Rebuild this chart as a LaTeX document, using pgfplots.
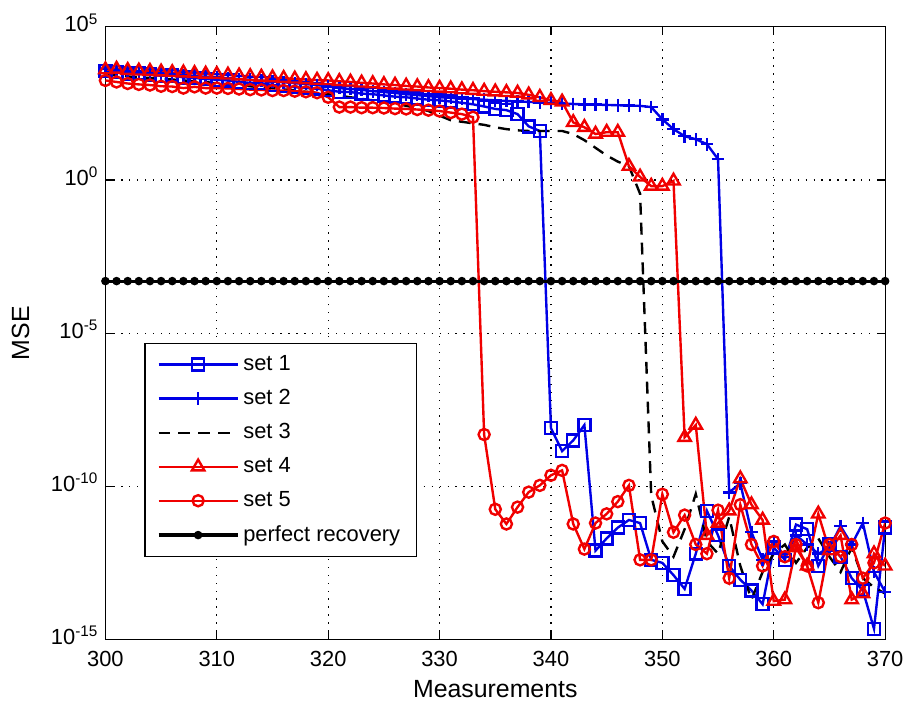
\documentclass[border=0pt]{standalone}
\usepackage{fontspec}
\setmainfont{Liberation Sans}
\usepackage{pgfplots}
\pgfplotsset{compat=1.18}
\usepackage{pgfplotstable}

\definecolor{mblue}{RGB}{0,0,230}
\definecolor{mred}{RGB}{240,0,0}

% MATLAB-like long legend samples
\pgfplotsset{legend image code/.code={%
  \draw[mark repeat=2,mark phase=2,#1] plot coordinates {(0cm,0cm) (0.7cm,0cm) (1.4cm,0cm)};}}

% columns: measurements, log10(MSE)
\pgfplotstableread[row sep=\\]{
m v\\
300 3.55\\ 301 3.52\\ 302 3.48\\ 303 3.50\\ 304 3.44\\ 305 3.40\\ 306 3.41\\ 307 3.35\\ 308 3.33\\ 309 3.30\\
310 3.27\\ 311 3.25\\ 312 3.20\\ 313 3.17\\ 314 3.16\\ 315 3.10\\ 316 3.07\\ 317 3.03\\ 318 3.00\\ 319 2.98\\
320 2.93\\ 321 2.88\\ 322 2.87\\ 323 2.82\\ 324 2.80\\ 325 2.76\\ 326 2.72\\ 327 2.70\\ 328 2.66\\ 329 2.62\\
330 2.60\\ 331 2.56\\ 332 2.52\\ 333 2.47\\ 334 2.40\\ 335 2.32\\ 336 2.28\\ 337 2.15\\ 338 1.75\\ 339 1.60\\
340 -8.10\\ 341 -8.85\\ 342 -8.50\\ 343 -8.00\\ 344 -12.10\\ 345 -11.70\\ 346 -11.35\\ 347 -11.10\\ 348 -11.20\\ 349 -12.40\\
350 -12.50\\ 351 -12.90\\ 352 -13.35\\ 353 -12.20\\ 354 -10.80\\ 355 -11.60\\ 356 -12.60\\ 357 -13.05\\ 358 -13.40\\ 359 -13.85\\
360 -12.00\\ 361 -12.40\\ 362 -11.25\\ 363 -11.40\\ 364 -12.60\\ 365 -11.90\\ 366 -12.30\\ 367 -13.00\\ 368 -13.40\\ 369 -14.65\\
370 -11.35\\
}\setone

\pgfplotstableread[row sep=\\]{
m v\\
300 3.62\\ 301 3.58\\ 302 3.55\\ 303 3.54\\ 304 3.50\\ 305 3.47\\ 306 3.45\\ 307 3.42\\ 308 3.40\\ 309 3.37\\
310 3.35\\ 311 3.32\\ 312 3.30\\ 313 3.27\\ 314 3.24\\ 315 3.22\\ 316 3.19\\ 317 3.16\\ 318 3.13\\ 319 3.10\\
320 3.05\\ 321 3.00\\ 322 2.97\\ 323 2.94\\ 324 2.90\\ 325 2.87\\ 326 2.84\\ 327 2.80\\ 328 2.77\\ 329 2.74\\
330 2.70\\ 331 2.68\\ 332 2.66\\ 333 2.64\\ 334 2.62\\ 335 2.60\\ 336 2.58\\ 337 2.56\\ 338 2.55\\ 339 2.53\\
340 2.52\\ 341 2.50\\ 342 2.48\\ 343 2.47\\ 344 2.46\\ 345 2.45\\ 346 2.44\\ 347 2.43\\ 348 2.42\\ 349 2.38\\
350 1.98\\ 351 1.66\\ 352 1.43\\ 353 1.33\\ 354 1.17\\ 355 0.68\\ 356 -10.20\\ 357 -9.90\\ 358 -11.50\\ 359 -12.40\\
360 -11.80\\ 361 -12.30\\ 362 -11.60\\ 363 -11.90\\ 364 -12.20\\ 365 -12.00\\ 366 -11.30\\ 367 -11.90\\ 368 -11.20\\ 369 -12.80\\
370 -13.45\\
}\settwo

\pgfplotstableread[row sep=\\]{
m v\\
300 3.40\\ 301 3.45\\ 302 3.38\\ 303 3.35\\ 304 3.33\\ 305 3.30\\ 306 3.28\\ 307 3.25\\ 308 3.22\\ 309 3.20\\
310 3.15\\ 311 3.12\\ 312 3.10\\ 313 3.06\\ 314 3.02\\ 315 3.00\\ 316 2.96\\ 317 2.92\\ 318 2.88\\ 319 2.85\\
320 2.80\\ 321 2.75\\ 322 2.70\\ 323 2.65\\ 324 2.60\\ 325 2.55\\ 326 2.50\\ 327 2.42\\ 328 2.35\\ 329 2.25\\
330 2.10\\ 331 1.95\\ 332 1.90\\ 333 1.85\\ 334 1.80\\ 335 1.72\\ 336 1.66\\ 337 1.62\\ 338 1.60\\ 339 1.60\\
340 1.60\\ 341 1.60\\ 342 1.50\\ 343 1.30\\ 344 1.05\\ 345 0.80\\ 346 0.60\\ 347 0.45\\ 348 -0.45\\ 349 -10.30\\
350 -11.80\\ 351 -12.30\\ 352 -11.40\\ 353 -10.25\\ 354 -11.80\\ 355 -12.20\\ 356 -11.00\\ 357 -12.60\\ 358 -13.70\\ 359 -12.80\\
360 -12.20\\ 361 -11.90\\ 362 -12.50\\ 363 -12.00\\ 364 -11.70\\ 365 -12.30\\ 366 -12.80\\ 367 -12.00\\ 368 -13.00\\ 369 -13.30\\
370 -13.50\\
}\setthree

\pgfplotstableread[row sep=\\]{
m v\\
300 3.60\\ 301 3.62\\ 302 3.58\\ 303 3.56\\ 304 3.55\\ 305 3.53\\ 306 3.51\\ 307 3.50\\ 308 3.48\\ 309 3.46\\
310 3.45\\ 311 3.43\\ 312 3.40\\ 313 3.38\\ 314 3.36\\ 315 3.34\\ 316 3.32\\ 317 3.30\\ 318 3.28\\ 319 3.26\\
320 3.25\\ 321 3.22\\ 322 3.20\\ 323 3.17\\ 324 3.15\\ 325 3.12\\ 326 3.10\\ 327 3.07\\ 328 3.05\\ 329 3.02\\
330 3.00\\ 331 2.98\\ 332 2.95\\ 333 2.93\\ 334 2.90\\ 335 2.88\\ 336 2.86\\ 337 2.84\\ 338 2.78\\ 339 2.70\\
340 2.60\\ 341 2.55\\ 342 1.88\\ 343 1.72\\ 344 1.50\\ 345 1.56\\ 346 1.56\\ 347 0.45\\ 348 0.10\\ 349 -0.20\\
350 -0.20\\ 351 -0.03\\ 352 -8.40\\ 353 -8.00\\ 354 -11.60\\ 355 -11.20\\ 356 -10.80\\ 357 -9.75\\ 358 -10.60\\ 359 -11.10\\
360 -13.75\\ 361 -13.70\\ 362 -12.00\\ 363 -12.60\\ 364 -10.90\\ 365 -12.10\\ 366 -11.60\\ 367 -13.70\\ 368 -13.50\\ 369 -12.20\\
370 -12.60\\
}\setfour

\pgfplotstableread[row sep=\\]{
m v\\
300 3.25\\ 301 3.20\\ 302 3.15\\ 303 3.12\\ 304 3.10\\ 305 3.06\\ 306 3.05\\ 307 3.00\\ 308 3.04\\ 309 3.00\\
310 3.00\\ 311 2.99\\ 312 2.97\\ 313 2.95\\ 314 2.94\\ 315 2.92\\ 316 2.92\\ 317 2.90\\ 318 2.88\\ 319 2.85\\
320 2.70\\ 321 2.38\\ 322 2.38\\ 323 2.36\\ 324 2.36\\ 325 2.35\\ 326 2.33\\ 327 2.32\\ 328 2.30\\ 329 2.28\\
330 2.25\\ 331 2.20\\ 332 2.15\\ 333 2.05\\ 334 -8.31\\ 335 -10.75\\ 336 -11.23\\ 337 -10.68\\ 338 -10.19\\ 339 -9.97\\
340 -9.64\\ 341 -9.48\\ 342 -11.23\\ 343 -12.05\\ 344 -11.20\\ 345 -10.90\\ 346 -10.50\\ 347 -9.97\\ 348 -12.40\\ 349 -12.40\\
350 -10.26\\ 351 -11.50\\ 352 -10.94\\ 353 -11.90\\ 354 -12.20\\ 355 -10.78\\ 356 -13.00\\ 357 -10.60\\ 358 -11.90\\ 359 -12.60\\
360 -11.80\\ 361 -12.30\\ 362 -11.90\\ 363 -12.60\\ 364 -13.80\\ 365 -11.90\\ 366 -12.30\\ 367 -11.90\\ 368 -13.00\\ 369 -12.50\\
370 -11.20\\
}\setfive

\begin{document}
\begin{tikzpicture}
  \begin{axis}[
      width=392pt, height=308pt, scale only axis,
      xmin=300, xmax=370,
      ymode=log, ymin=1e-15, ymax=1e5,
      xtick={300,310,...,370},
      ytick={1e-15,1e-10,1e-5,1,1e5},
      yticklabels={10\textsuperscript{-15},10\textsuperscript{-10},10\textsuperscript{-5},10\textsuperscript{0},10\textsuperscript{5}},
      yminorticks=false,
      grid=major,
      major grid style={black, line width=0.6pt, dash pattern=on 0.6pt off 3.4pt},
      axis line style={line width=0.6pt},
      tick style={black, line width=0.6pt},
      major tick length=4pt,
      /pgf/number format/assume math mode=true,
      tick label style={font=\fontsize{11}{13}\selectfont},
      xticklabel style={yshift=-2.5pt},
      yticklabel style={yshift=2pt},
      label style={font=\fontsize{12.5}{15}\selectfont},
      xlabel={Measurements},
      ylabel={MSE},
      ylabel style={yshift=4pt},
      legend cell align=left,
      legend style={at={(0.05,0.484)}, anchor=north west, draw=black,
        line width=0.6pt, fill=white, font=\fontsize{11}{13}\selectfont,
        row sep=4pt, inner xsep=6pt, inner ysep=4pt},
    ]
    \addplot[mblue, line width=1.2pt, mark=square, mark size=3pt]
      table[x=m, y expr=10^(\thisrow{v})] {\setone};
    \addlegendentry{set 1}
    \addplot[mblue, line width=1.2pt, mark=+, mark size=3.2pt]
      table[x=m, y expr=10^(\thisrow{v})] {\settwo};
    \addlegendentry{set 2}
    \addplot[black, line width=1.2pt, dash pattern=on 6pt off 4pt]
      table[x=m, y expr=10^(\thisrow{v})] {\setthree};
    \addlegendentry{set 3}
    \addplot[mred, line width=1.2pt, mark=triangle, mark size=3.6pt]
      table[x=m, y expr=10^(\thisrow{v})] {\setfour};
    \addlegendentry{set 4}
    \addplot[mred, line width=1.2pt, mark=o, mark size=2.8pt]
      table[x=m, y expr=10^(\thisrow{v})] {\setfive};
    \addlegendentry{set 5}
    \addplot[black, line width=1.6pt, mark=*, mark size=1.3pt] coordinates {
      (300,5e-4) (301,5e-4) (302,5e-4) (303,5e-4) (304,5e-4) (305,5e-4) (306,5e-4) (307,5e-4) (308,5e-4) (309,5e-4)
      (310,5e-4) (311,5e-4) (312,5e-4) (313,5e-4) (314,5e-4) (315,5e-4) (316,5e-4) (317,5e-4) (318,5e-4) (319,5e-4)
      (320,5e-4) (321,5e-4) (322,5e-4) (323,5e-4) (324,5e-4) (325,5e-4) (326,5e-4) (327,5e-4) (328,5e-4) (329,5e-4)
      (330,5e-4) (331,5e-4) (332,5e-4) (333,5e-4) (334,5e-4) (335,5e-4) (336,5e-4) (337,5e-4) (338,5e-4) (339,5e-4)
      (340,5e-4) (341,5e-4) (342,5e-4) (343,5e-4) (344,5e-4) (345,5e-4) (346,5e-4) (347,5e-4) (348,5e-4) (349,5e-4)
      (350,5e-4) (351,5e-4) (352,5e-4) (353,5e-4) (354,5e-4) (355,5e-4) (356,5e-4) (357,5e-4) (358,5e-4) (359,5e-4)
      (360,5e-4) (361,5e-4) (362,5e-4) (363,5e-4) (364,5e-4) (365,5e-4) (366,5e-4) (367,5e-4) (368,5e-4) (369,5e-4)
      (370,5e-4)
    };
    \addlegendentry{perfect recovery}
    \coordinate (bl) at (rel axis cs:-0.1352,-0.1136);
    \coordinate (tr) at (rel axis cs:1.0255,1.0438);
  \end{axis}
  \path[use as bounding box] (bl) rectangle (tr);
\end{tikzpicture}
\end{document}
